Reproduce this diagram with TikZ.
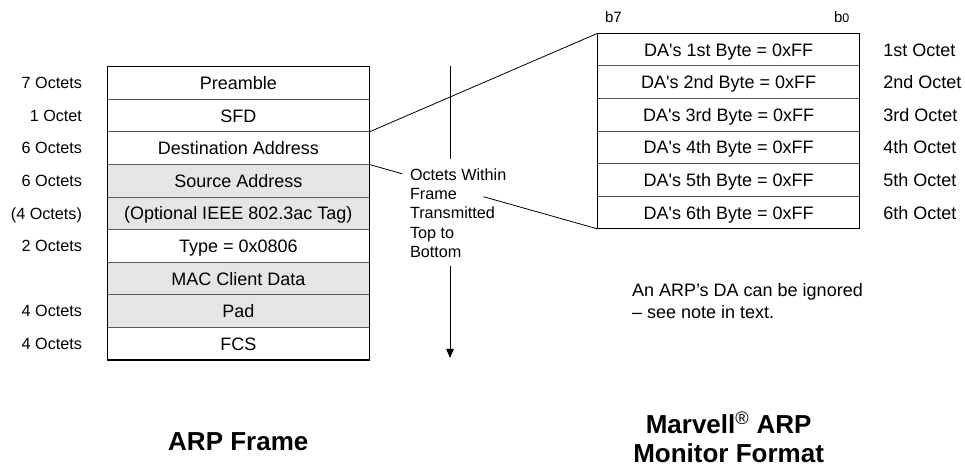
\documentclass[tikz,border=0pt]{standalone}
\usepackage{fontspec}
\setmainfont{Liberation Sans}
\usetikzlibrary{arrows.meta,calc}

\begin{document}
\begin{tikzpicture}[x=1bp,y=-1bp,
  every node/.style={inner sep=0pt, outer sep=0pt},
  txt/.style={font=\fontsize{18bp}{19.3bp}\selectfont},
  small/.style={font=\fontsize{16.2bp}{19.3bp}\selectfont},
  oneline/.style={text height=16.7bp, text depth=3.8bp},
  cell/.style={txt, oneline, draw=black!65, line width=1bp, minimum width=262bp, minimum height=32.6bp, fill=white},
  shaded/.style={cell, fill=black!10},
  sizelabel/.style={small, text height=15bp, text depth=3.4bp, anchor=east},
  octlabel/.style={txt, oneline, anchor=west},
  frameline/.style={draw=black, line width=1.2bp},
  link/.style={draw=black, line width=0.8bp},
  title/.style={font=\fontsize{26bp}{29bp}\selectfont\bfseries, align=center}
]
\useasboundingbox (0,0) rectangle (965,466);

% ---------- ARP frame (left column) ----------
\node[cell]   (pre)  at (238.3, 83.0) {Preamble};
\node[cell]   (sfd)  at (238.3,115.6) {SFD};
\node[cell]   (da)   at (238.3,148.2) {Destination Address};
\node[shaded] (sa)   at (238.3,180.8) {Source Address};
\node[shaded] (tag)  at (238.3,213.4) {(Optional IEEE 802.3ac Tag)};
\node[cell]   (type) at (238.3,246.0) {Type = 0x0806};
\node[shaded] (mac)  at (238.3,278.6) {MAC Client Data};
\node[shaded] (pad)  at (238.3,311.2) {Pad};
\node[cell]   (fcs)  at (238.3,343.8) {FCS};
\draw[frameline] (pre.north west) rectangle (fcs.south east);

% field sizes
\node[sizelabel] (spre)  at (82, 83.0) {7 Octets};
\node[sizelabel] (ssfd)  at (82,115.6) {1 Octet};
\node[sizelabel] (sda)   at (82,148.2) {6 Octets};
\node[sizelabel] (ssa)   at (82,180.8) {6 Octets};
\node[sizelabel] (stag)  at (82,213.4) {(4 Octets)};
\node[sizelabel] (stype) at (82,246.0) {2 Octets};
\node[sizelabel] (spad)  at (82,311.2) {4 Octets};
\node[sizelabel] (sfcs)  at (82,343.8) {4 Octets};

% ---------- DA bytes (right column) ----------
\node[cell] (d1) at (728.6, 49.6) {DA\textquotesingle s 1st Byte = 0xFF};
\node[cell] (d2) at (728.6, 82.2) {DA\textquotesingle s 2nd Byte = 0xFF};
\node[cell] (d3) at (728.6,114.8) {DA\textquotesingle s 3rd Byte = 0xFF};
\node[cell] (d4) at (728.6,147.4) {DA\textquotesingle s 4th Byte = 0xFF};
\node[cell] (d5) at (728.6,180.0) {DA\textquotesingle s 5th Byte = 0xFF};
\node[cell] (d6) at (728.6,212.6) {DA\textquotesingle s 6th Byte = 0xFF};
\draw[frameline] (d1.north west) rectangle (d6.south east);

% bit numbering
\node[font=\fontsize{15bp}{15bp}\selectfont, anchor=west] (b7) at (605,16.7) {b7};
\node[font=\fontsize{15bp}{15bp}\selectfont, anchor=west] (b0) at (834,16.7)
  {b{\fontsize{12.5bp}{12.5bp}\selectfont 0}};

\node[octlabel] (o1) at (883.3, 49.6) {1st Octet};
\node[octlabel] (o2) at (883.3, 82.2) {2nd Octet};
\node[octlabel] (o3) at (883.3,114.8) {3rd Octet};
\node[octlabel] (o4) at (883.3,147.4) {4th Octet};
\node[octlabel] (o5) at (883.3,180.0) {5th Octet};
\node[octlabel] (o6) at (883.3,212.6) {6th Octet};

% ---------- expansion lines: DA field -> DA bytes ----------
\draw[link] (sfd.south east) -- (d1.north west);
\draw[link] (da.south east) -- ($(da.south east)!0.145!(d6.south west)$);
\draw[link] ($(da.south east)!0.5!(d6.south west)$) -- (d6.south west);

% ---------- transmission order ----------
\node[small, anchor=north west, align=left] (order) at (410,168.5)
  {Octets Within\\Frame\\Transmitted\\Top to\\Bottom};
\coordinate (atop) at (450,66);
\coordinate (abrk1) at (450,159.3);
\coordinate (abrk2) at (450,266);
\coordinate (atip) at (450,358);
\draw[link] (atop) -- (abrk1);
\draw[link, -{Triangle[width=7.5bp,length=9bp]}] (abrk2) -- (atip);

% ---------- note ----------
\node[anchor=north west, align=left, font=\fontsize{18bp}{21.7bp}\selectfont] (note) at (632,283.5)
  {An ARP’s DA can be ignored\\– see note in text.};

% ---------- captions ----------
\node[title] (t1) at (238.3,441.7) {ARP Frame};
\node[title, anchor=north] (t2) at (728.6,411.7)
  {Marvell\textsuperscript{\mdseries\textregistered} ARP\\Monitor Format};
\end{tikzpicture}
\end{document}
